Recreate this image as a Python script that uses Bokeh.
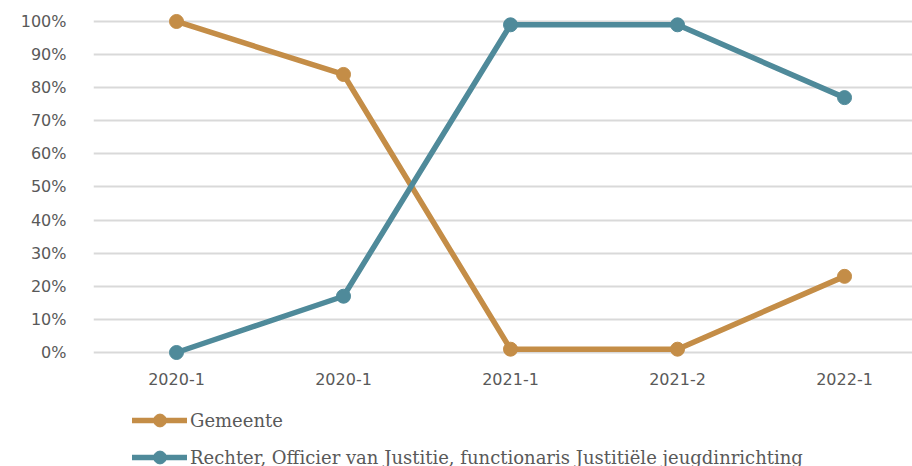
from bokeh.plotting import figure
from bokeh.layouts import column
from bokeh.models import Range1d, FixedTicker, PrintfTickFormatter, Legend, LegendItem, ColumnDataSource
from bokeh.embed import file_html
from bokeh.resources import INLINE

periods = ["2020-1", "2020-1", "2021-1", "2021-2", "2022-1"]
gemeente = [100, 84, 1, 1, 23]
rechter = [0, 17, 99, 99, 77]
series_names = ["Gemeente", "Rechter, Officier van Justitie, functionaris Justitiële jeugdinrichting"]
colors = ["#C48D47", "#4F8A9A"]

xs = list(range(len(periods)))

p = figure(width=912, height=400, output_backend="svg", toolbar_location=None,
           x_range=Range1d(-0.497, 4.407), y_range=Range1d(-3.02, 103.32),
           min_border_left=93, min_border_right=0, min_border_top=10, min_border_bottom=38)
p.outline_line_color = None
p.background_fill_color = "white"
p.border_fill_color = "white"

p.xgrid.grid_line_color = None
p.ygrid.grid_line_color = "#D9D9D9"
p.ygrid.grid_line_width = 2
p.yaxis.ticker = FixedTicker(ticks=list(range(0, 101, 10)))
p.yaxis.formatter = PrintfTickFormatter(format="%d%%")
p.xaxis.ticker = FixedTicker(ticks=xs)
p.xaxis.major_label_overrides = {i: lab for i, lab in enumerate(periods)}

for ax in (p.xaxis, p.yaxis):
    ax.axis_line_color = None
    ax.major_tick_line_color = None
    ax.minor_tick_line_color = None
    ax.major_label_text_font = "DejaVu Sans"
    ax.major_label_text_font_size = "16px"
    ax.major_label_text_color = "#595959"
p.yaxis.major_label_standoff = 21
p.xaxis.major_label_standoff = 4

sources = []
for vals, c in zip([gemeente, rechter], colors):
    src = ColumnDataSource(dict(x=xs, y=vals))
    sources.append(src)
    p.line("x", "y", source=src, line_color=c, line_width=5.5, line_join="round", line_cap="round")
    p.scatter("x", "y", source=src, size=14, fill_color=c, line_color=c)

# legend strip below the chart (its ranges keep the series out of view; only the legend shows)
lg = figure(width=912, height=66, output_backend="svg", toolbar_location=None,
            x_axis_type=None, y_axis_type=None, min_border=0,
            x_range=Range1d(1000, 1001), y_range=Range1d(1000, 1001))
lg.outline_line_color = None
lg.xgrid.grid_line_color = None
lg.ygrid.grid_line_color = None
items = []
for name, src, c in zip(series_names, sources, colors):
    l = lg.line("x", "y", source=src, line_color=c, line_width=5.5, line_cap="round")
    s = lg.scatter("x", "y", source=src, size=14, fill_color=c, line_color=c)
    items.append(LegendItem(label=name, renderers=[l, s]))

legend = Legend(items=items, location=(39, -7), orientation="vertical",
                label_text_font="DejaVu Serif", label_text_font_size="18px",
                label_text_color="#595959", glyph_width=55, glyph_height=32,
                label_height=32, spacing=5, padding=0, margin=0, label_standoff=3,
                border_line_color=None, background_fill_alpha=0)
lg.add_layout(legend, "center")

layout = column(p, lg, spacing=0)
open("out.html", "w").write(file_html(layout, INLINE))
